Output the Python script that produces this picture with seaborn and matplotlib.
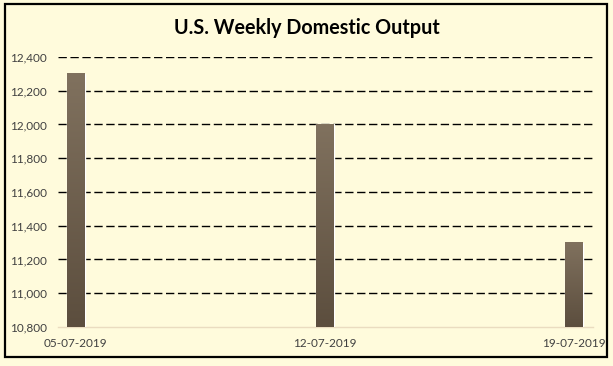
import numpy as np
import pandas as pd
import matplotlib
matplotlib.use('Agg')
import matplotlib.pyplot as plt
from matplotlib.patches import Rectangle
import seaborn as sns

# data
dates = ['05-07-2019', '12-07-2019', '19-07-2019']
day_offset = [0, 7, 14]
output = [12300, 12000, 11300]
y_ticks = [10800, 11000, 11200, 11400, 11600, 11800, 12000, 12200, 12400]

bg = '#FFFBDC'
sns.set_style('white')
plt.rcParams['font.family'] = ['Lato', 'DejaVu Sans']

df = pd.DataFrame({'day': day_offset, 'output': output})

fig = plt.figure(figsize=(6.13, 3.66), dpi=100, facecolor=bg)
ax = fig.add_axes([0.0946, 0.1066, 0.8728, 0.7377])
ax.set_facecolor(bg)

sns.barplot(data=df, x='day', y='output', native_scale=True, width=0.5 / 7,
            color='#6E604E', ax=ax, zorder=3)

ymin, ymax = 10800, 12400
ax.set_ylim(ymin, ymax)
ax.set_xlim(-0.5, 14.53)

# gradient fill on bars (lighter top, darker bottom), over the visible part
grad = np.linspace(0, 1, 100).reshape(-1, 1)
cmap = matplotlib.colors.LinearSegmentedColormap.from_list('b', ['#5C4E3E', '#80715E'])
for p in list(ax.patches):
    x0, w = p.get_x(), p.get_width()
    top = p.get_y() + p.get_height()
    ax.imshow(grad, cmap=cmap, aspect='auto', origin='lower',
              extent=[x0, x0 + w, ymin, top], zorder=4)
ax.set_xlim(-0.5, 14.53)
ax.set_ylim(ymin, ymax)

ax.set_yticks(y_ticks)
ax.set_yticklabels([f'{v:,}' for v in y_ticks], fontsize=8.5, color='#404040')
ax.set_xticks(day_offset)
ax.set_xticklabels(dates, fontsize=8.5, color='#404040')
ax.set_xlabel('')
ax.set_ylabel('')

for v in y_ticks[1:]:
    ax.axhline(v, color='black', lw=1.0, ls=(0, (6, 2.6)), zorder=2)

for s in ['top', 'right', 'left']:
    ax.spines[s].set_visible(False)
ax.spines['bottom'].set_color('#EADCC0')
ax.spines['bottom'].set_linewidth(1)
ax.tick_params(axis='y', length=0, pad=8)
ax.tick_params(axis='x', length=0, pad=8)

fig.text(0.5, 0.923, 'U.S. Weekly Domestic Output', ha='center', va='center',
         fontsize=14.2, fontweight='bold', color='black')

fig.patches.append(Rectangle((4.5 / 613, 9 / 366), 602.5 / 613, 353.5 / 366,
                             transform=fig.transFigure, fill=False,
                             edgecolor='black', lw=1.6))

fig.savefig('out.png', dpi=100, facecolor=bg)
